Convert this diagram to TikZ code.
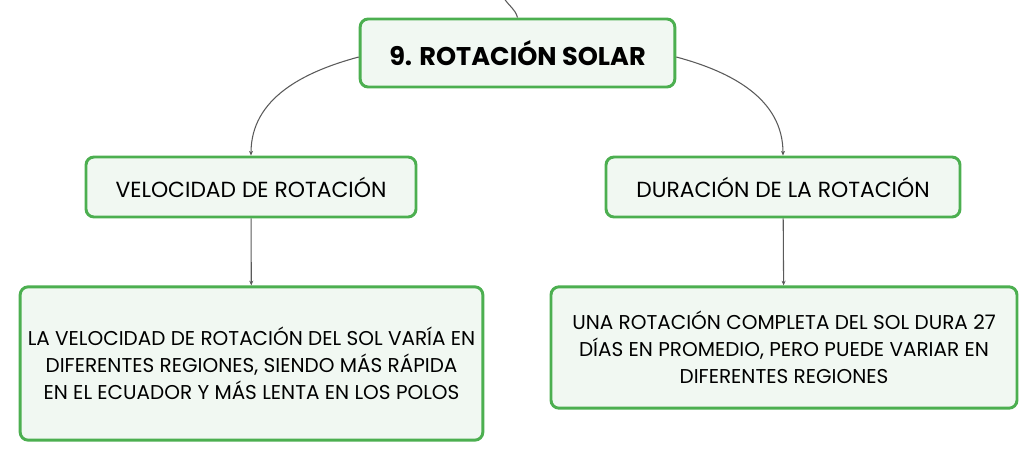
\documentclass[tikz,border=0pt]{standalone}
\usepackage{fontspec}
\setmainfont{Poppins}
\usepackage{xcolor}
\usetikzlibrary{arrows.meta,positioning,calc}

\definecolor{boxgreen}{RGB}{76,175,80}
\definecolor{boxfill}{RGB}{241,248,242}
\definecolor{linkgray}{RGB}{90,90,90}

\begin{document}
\begin{tikzpicture}[
    x=0.75pt, y=-0.75pt,
    topic/.style={rectangle, draw=boxgreen, fill=boxfill, line width=2.2pt, rounded corners=6pt, align=center, inner sep=0pt},
    link/.style={-{Stealth[length=3.5pt, width=3pt]}, linkgray, line width=0.8pt}
]
    \useasboundingbox (0,0) rectangle (1035,461);

    % Root topic
    \node[topic, minimum width=236pt, minimum height=51pt, font=\fontsize{19.2}{22}\selectfont\bfseries] (rot) at (517.5,53) {9. ROTACIÓN SOLAR};
    \coordinate (up) at (504,-2);

    % Sub topics
    \node[topic, minimum width=247.5pt, minimum height=45pt, font=\fontsize{16.4}{19}\selectfont] (vel) at (251,187) {VELOCIDAD DE ROTACIÓN};
    \node[topic, minimum width=265.5pt, minimum height=45pt, font=\fontsize{16.4}{19}\selectfont] (dur) at (783,187) {DURACIÓN DE LA ROTACIÓN};

    % Details
    \node[topic, minimum width=347pt, minimum height=115pt, font=\fontsize{15}{20.25}\selectfont] (veltxt) at (251.5,363.5) {LA VELOCIDAD DE ROTACIÓN DEL SOL VARÍA EN\\DIFERENTES REGIONES, SIENDO MÁS RÁPIDA\\EN EL ECUADOR Y MÁS LENTA EN LOS POLOS};
    \node[topic, minimum width=349.5pt, minimum height=91pt, font=\fontsize{15}{20.25}\selectfont] (durtxt) at (784,347.5) {UNA ROTACIÓN COMPLETA DEL SOL DURA 27\\DÍAS EN PROMEDIO, PERO PUEDE VARIAR EN\\DIFERENTES REGIONES};

    % Connectors
    \draw[linkgray, line width=0.8pt] (rot.north) to[out=105, in=-60] (up);
    \draw[link] ([yshift=-3pt]rot.west) to[out=195, in=90] (vel.north);
    \draw[link] ([yshift=-3pt]rot.east) to[out=-15, in=90] (dur.north);
    \draw[link] (vel) -- (veltxt);
    \draw[link] (dur) -- (durtxt);
\end{tikzpicture}
\end{document}
